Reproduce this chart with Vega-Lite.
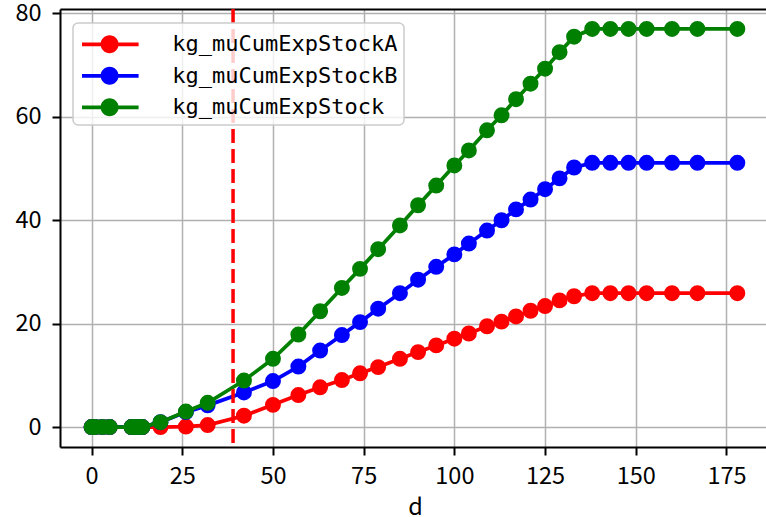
{
  "$schema": "https://vega.github.io/schema/vega-lite/v6.json",
  "width": 706,
  "height": 438,
  "autosize": "none",
  "padding": {"left": 60, "top": 9, "right": 0, "bottom": 70},
  "config": {
    "view": {"stroke": null},
    "axis": {
      "gridColor": "#b0b0b0", "gridWidth": 1.5, "gridOpacity": 1,
      "domainColor": "#000000", "domainWidth": 2,
      "tickColor": "#000000", "tickWidth": 2, "tickSize": 8,
      "labelFont": "Noto Sans CJK SC", "labelFontSize": 23.5, "labelColor": "#000000",
      "titleFont": "Noto Sans CJK SC", "titleFontSize": 23.5, "titleColor": "#000000", "titleFontWeight": "normal"
    },
    "legend": {
      "orient": "none", "legendX": 13, "legendY": 14,
      "padding": 6.3, "rowPadding": 5.5,
      "fillColor": "rgba(255,255,255,0.8)", "strokeColor": "#cccccc", "strokeWidth": 1.5, "cornerRadius": 5,
      "labelFont": "DejaVu Sans Mono", "labelFontSize": 22, "labelColor": "#000000", "labelOffset": 63, "labelLimit": 500,
      "symbolSize": 900, "symbolStrokeWidth": 0,
      "symbolType": "M-0.82,-0.125H2.953V0.125H-0.82Z M0.42,0A0.6,0.6 0 1,1 1.62,0A0.6,0.6 0 1,1 0.42,0Z"
    }
  },
  "datasets": {
    "series": [
      {"d":0,"s":"kg_muCumExpStockA","v":0},{"d":1,"s":"kg_muCumExpStockA","v":0},{"d":3,"s":"kg_muCumExpStockA","v":0},{"d":5,"s":"kg_muCumExpStockA","v":0},
      {"d":11,"s":"kg_muCumExpStockA","v":0},{"d":12,"s":"kg_muCumExpStockA","v":0},{"d":13,"s":"kg_muCumExpStockA","v":0},{"d":14,"s":"kg_muCumExpStockA","v":0},
      {"d":19,"s":"kg_muCumExpStockA","v":0},{"d":26,"s":"kg_muCumExpStockA","v":0.1},{"d":32,"s":"kg_muCumExpStockA","v":0.4},{"d":42,"s":"kg_muCumExpStockA","v":2.2},
      {"d":50,"s":"kg_muCumExpStockA","v":4.3},{"d":57,"s":"kg_muCumExpStockA","v":6.2},{"d":63,"s":"kg_muCumExpStockA","v":7.7},{"d":69,"s":"kg_muCumExpStockA","v":9.1},
      {"d":74,"s":"kg_muCumExpStockA","v":10.4},{"d":79,"s":"kg_muCumExpStockA","v":11.6},{"d":85,"s":"kg_muCumExpStockA","v":13.2},{"d":90,"s":"kg_muCumExpStockA","v":14.5},
      {"d":95,"s":"kg_muCumExpStockA","v":15.8},{"d":100,"s":"kg_muCumExpStockA","v":17.1},{"d":104,"s":"kg_muCumExpStockA","v":18.1},{"d":109,"s":"kg_muCumExpStockA","v":19.5},
      {"d":113,"s":"kg_muCumExpStockA","v":20.4},{"d":117,"s":"kg_muCumExpStockA","v":21.4},{"d":121,"s":"kg_muCumExpStockA","v":22.5},{"d":125,"s":"kg_muCumExpStockA","v":23.4},
      {"d":129,"s":"kg_muCumExpStockA","v":24.5},{"d":133,"s":"kg_muCumExpStockA","v":25.3},{"d":138,"s":"kg_muCumExpStockA","v":25.9},{"d":143,"s":"kg_muCumExpStockA","v":25.9},
      {"d":148,"s":"kg_muCumExpStockA","v":25.9},{"d":153,"s":"kg_muCumExpStockA","v":25.9},{"d":160,"s":"kg_muCumExpStockA","v":25.9},{"d":167,"s":"kg_muCumExpStockA","v":25.9},
      {"d":178,"s":"kg_muCumExpStockA","v":25.9},

      {"d":0,"s":"kg_muCumExpStockB","v":0},{"d":1,"s":"kg_muCumExpStockB","v":0},{"d":3,"s":"kg_muCumExpStockB","v":0},{"d":5,"s":"kg_muCumExpStockB","v":0},
      {"d":11,"s":"kg_muCumExpStockB","v":0},{"d":12,"s":"kg_muCumExpStockB","v":0},{"d":13,"s":"kg_muCumExpStockB","v":0},{"d":14,"s":"kg_muCumExpStockB","v":0},
      {"d":19,"s":"kg_muCumExpStockB","v":0.95},{"d":26,"s":"kg_muCumExpStockB","v":2.9},{"d":32,"s":"kg_muCumExpStockB","v":4.2},{"d":42,"s":"kg_muCumExpStockB","v":6.7},
      {"d":50,"s":"kg_muCumExpStockB","v":8.9},{"d":57,"s":"kg_muCumExpStockB","v":11.7},{"d":63,"s":"kg_muCumExpStockB","v":14.8},{"d":69,"s":"kg_muCumExpStockB","v":17.8},
      {"d":74,"s":"kg_muCumExpStockB","v":20.3},{"d":79,"s":"kg_muCumExpStockB","v":22.9},{"d":85,"s":"kg_muCumExpStockB","v":25.9},{"d":90,"s":"kg_muCumExpStockB","v":28.5},
      {"d":95,"s":"kg_muCumExpStockB","v":31.0},{"d":100,"s":"kg_muCumExpStockB","v":33.4},{"d":104,"s":"kg_muCumExpStockB","v":35.5},{"d":109,"s":"kg_muCumExpStockB","v":38.0},
      {"d":113,"s":"kg_muCumExpStockB","v":40.0},{"d":117,"s":"kg_muCumExpStockB","v":42.1},{"d":121,"s":"kg_muCumExpStockB","v":44.0},{"d":125,"s":"kg_muCumExpStockB","v":46.0},
      {"d":129,"s":"kg_muCumExpStockB","v":48.1},{"d":133,"s":"kg_muCumExpStockB","v":50.2},{"d":138,"s":"kg_muCumExpStockB","v":51.1},{"d":143,"s":"kg_muCumExpStockB","v":51.1},
      {"d":148,"s":"kg_muCumExpStockB","v":51.1},{"d":153,"s":"kg_muCumExpStockB","v":51.1},{"d":160,"s":"kg_muCumExpStockB","v":51.1},{"d":167,"s":"kg_muCumExpStockB","v":51.1},
      {"d":178,"s":"kg_muCumExpStockB","v":51.1},

      {"d":0,"s":"kg_muCumExpStock","v":0},{"d":1,"s":"kg_muCumExpStock","v":0},{"d":3,"s":"kg_muCumExpStock","v":0},{"d":5,"s":"kg_muCumExpStock","v":0},
      {"d":11,"s":"kg_muCumExpStock","v":0},{"d":12,"s":"kg_muCumExpStock","v":0},{"d":13,"s":"kg_muCumExpStock","v":0},{"d":14,"s":"kg_muCumExpStock","v":0},
      {"d":19,"s":"kg_muCumExpStock","v":0.95},{"d":26,"s":"kg_muCumExpStock","v":3.0},{"d":32,"s":"kg_muCumExpStock","v":4.7},{"d":42,"s":"kg_muCumExpStock","v":9.0},
      {"d":50,"s":"kg_muCumExpStock","v":13.2},{"d":57,"s":"kg_muCumExpStock","v":17.9},{"d":63,"s":"kg_muCumExpStock","v":22.4},{"d":69,"s":"kg_muCumExpStock","v":26.9},
      {"d":74,"s":"kg_muCumExpStock","v":30.6},{"d":79,"s":"kg_muCumExpStock","v":34.4},{"d":85,"s":"kg_muCumExpStock","v":39.0},{"d":90,"s":"kg_muCumExpStock","v":42.9},
      {"d":95,"s":"kg_muCumExpStock","v":46.7},{"d":100,"s":"kg_muCumExpStock","v":50.6},{"d":104,"s":"kg_muCumExpStock","v":53.5},{"d":109,"s":"kg_muCumExpStock","v":57.4},
      {"d":113,"s":"kg_muCumExpStock","v":60.3},{"d":117,"s":"kg_muCumExpStock","v":63.4},{"d":121,"s":"kg_muCumExpStock","v":66.4},{"d":125,"s":"kg_muCumExpStock","v":69.3},
      {"d":129,"s":"kg_muCumExpStock","v":72.5},{"d":133,"s":"kg_muCumExpStock","v":75.5},{"d":138,"s":"kg_muCumExpStock","v":77.0},{"d":143,"s":"kg_muCumExpStock","v":77.0},
      {"d":148,"s":"kg_muCumExpStock","v":77.0},{"d":153,"s":"kg_muCumExpStock","v":77.0},{"d":160,"s":"kg_muCumExpStock","v":77.0},{"d":167,"s":"kg_muCumExpStock","v":77.0},
      {"d":178,"s":"kg_muCumExpStock","v":77.0}
    ],
    "marker": [{"d": 39}]
  },
  "layer": [
    {
      "data": {"name": "series"},
      "encoding": {
        "x": {"field": "d", "type": "quantitative",
              "scale": {"domain": [-8.7, 185.9], "nice": false, "zero": false},
              "axis": {"orient": "bottom", "values": [0,25,50,75,100,125,150,175], "labelPadding": 9, "title": "d", "titleX": 355, "titlePadding": 7.5, "grid": true}},
        "y": {"field": "v", "type": "quantitative",
              "scale": {"domain": [-3.85, 80.85], "nice": false, "zero": false},
              "axis": {"values": [0,20,40,60,80], "labelPadding": 11, "title": null, "grid": true}},
        "color": {"field": "s", "type": "nominal",
                  "scale": {"domain": ["kg_muCumExpStockA", "kg_muCumExpStockB", "kg_muCumExpStock"], "range": ["#ff0000", "#0000ff", "#008000"]},
                  "legend": {"title": null,
                             "encode": {"symbols": {"update": {"fill": {"scale": "color", "field": "value"}, "strokeWidth": {"value": 0}, "opacity": {"value": 1}}}}}}
      },
      "layer": [
        {"transform": [{"filter": "datum.s === 'kg_muCumExpStockA'"}],
         "mark": {"type": "line", "strokeWidth": 3.75, "point": {"filled": true, "size": 254, "opacity": 1}}},
        {"transform": [{"filter": "datum.s === 'kg_muCumExpStockB'"}],
         "mark": {"type": "line", "strokeWidth": 3.75, "point": {"filled": true, "size": 254, "opacity": 1}}},
        {"transform": [{"filter": "datum.s === 'kg_muCumExpStock'"}],
         "mark": {"type": "line", "strokeWidth": 3.75, "point": {"filled": true, "size": 254, "opacity": 1}}}
      ]
    },
    {
      "data": {"name": "marker"},
      "mark": {"type": "rule", "color": "#ff0000", "strokeWidth": 3.5, "strokeDash": [14, 6]},
      "encoding": {
        "x": {"field": "d", "type": "quantitative",
              "scale": {"domain": [-8.7, 185.9], "nice": false, "zero": false},
              "axis": {"orient": "top", "labels": false, "ticks": false, "grid": false, "domain": true, "title": null}}
      }
    }
  ],
  "resolve": {"axis": {"x": "independent"}}
}
